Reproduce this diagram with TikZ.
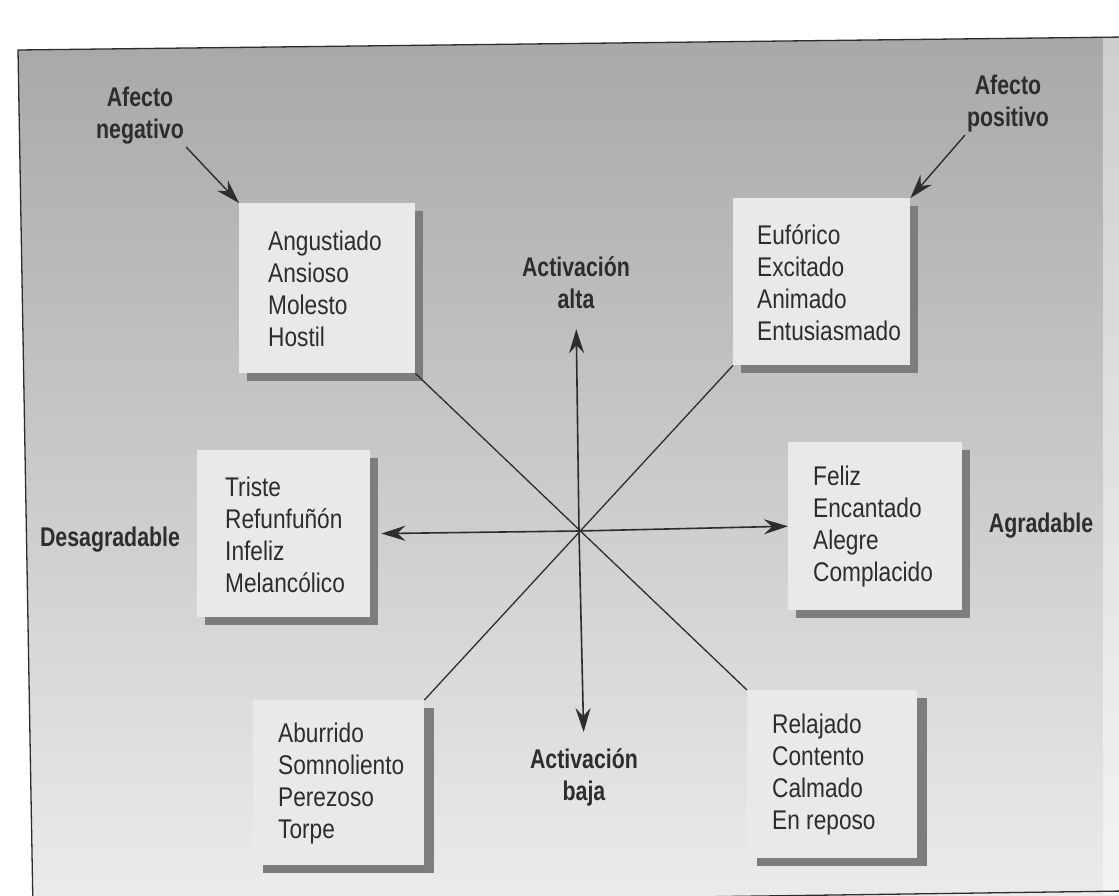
\documentclass[tikz,border=0pt]{standalone}
\usepackage{fontspec}
\usetikzlibrary{arrows.meta,shadows}
\newfontfamily\boxfont[FakeStretch=0.84]{Liberation Sans}
\newfontfamily\labfont[FakeStretch=0.79]{Liberation Sans}
\definecolor{boxfill}{RGB}{233,233,233}
\definecolor{shadowcol}{RGB}{125,125,125}
\definecolor{ink}{RGB}{45,45,45}
\definecolor{bgtop}{RGB}{168,168,168}
\definecolor{bgmid}{RGB}{194,194,194}
\definecolor{bgbot}{RGB}{236,236,236}
\tikzset{
  box/.style={fill=boxfill, inner sep=0pt, anchor=north west,
    drop shadow={shadow xshift=8pt, shadow yshift=-8pt, fill=shadowcol, opacity=1}},
  bigbox/.style={fill=boxfill, inner sep=0pt, anchor=north west,
    drop shadow={shadow xshift=10pt, shadow yshift=-8pt, fill=shadowcol, opacity=1}},
  words/.style={anchor=west, align=left, inner sep=0pt, text=ink,
    font=\boxfont\fontsize{27}{32}\selectfont},
  lab/.style={inner sep=0pt, align=center, text=ink,
    font=\labfont\bfseries\fontsize{27}{32}\selectfont},
  axis/.style={draw=ink, line width=1.6pt, -{Stealth[length=24pt,width=15pt,inset=8pt]}},
  diag/.style={draw=ink, line width=1.3pt},
  frameline/.style={draw=ink, line width=1.3pt}
}
\begin{document}
\begin{tikzpicture}[x=1pt,y=-1pt]
\fill[white] (0,0) rectangle (1119,895);
\useasboundingbox (0,0) rectangle (1119,895);
\begin{scope}
  \clip (0,0) rectangle (1119,895);
  \shade[top color=bgtop, middle color=bgmid, bottom color=bgbot]
    (18,50) -- (1125,37) -- (1125,910) -- (33,910) -- cycle;
  \fill[white, opacity=0.45] (1103,0) rectangle (1119,895);
  \draw[frameline] (33,910) -- (18,50) -- (1125,37);
  \draw[frameline] (33,906) -- (1125,891);
\end{scope}

% boxes
\node[box, minimum width=176pt, minimum height=170pt] (bneg) at (239,203) {};
\node[box, minimum width=177pt, minimum height=167pt] (bpos) at (733,198) {};
\node[box, minimum width=173pt, minimum height=167pt] (bdes) at (197,450) {};
\node[box, minimum width=174pt, minimum height=168pt] (bagr) at (788,442) {};
\node[bigbox, minimum width=171pt, minimum height=165pt] (babu) at (253,700) {};
\node[bigbox, minimum width=170pt, minimum height=168pt] (brel) at (747,690) {};

% box texts
\node[words] (tneg) at (268,289) {Angustiado\\Ansioso\\Molesto\\Hostil};
\node[words] (tpos) at (757,283) {Eufórico\\Excitado\\Animado\\Entusiasmado};
\node[words] (tdes) at (225,535) {Triste\\Refunfuñón\\Infeliz\\Melancólico};
\node[words] (tagr) at (813,527) {Feliz\\Encantado\\Alegre\\Complacido};
\node[words] (tabu) at (278,784) {Aburrido\\Somnoliento\\Perezoso\\Torpe};
\node[words] (trel) at (772,775) {Relajado\\Contento\\Calmado\\En reposo};

% labels
\node[lab] (lneg) at (140,116) {Afecto\\negativo};
\node[lab] (lpos) at (1008,104) {Afecto\\positivo};
\node[lab] (lalta) at (576,283) {Activación\\alta};
\node[lab] (lbaja) at (584,777) {Activación\\baja};
\node[lab, anchor=base] (ldes) at (110,546) {Desagradable};
\node[lab, anchor=base] (lagr) at (1041,532) {Agradable};

% axes
\coordinate (c) at (579,531);
\draw[diag] (bneg.south east) -- (brel.north west);
\draw[diag] (bpos.south west) -- (babu.north east);
\draw[axis, shorten >=20pt] (c) -- (lalta.south);
\draw[axis, shorten >=16pt] (c) -- (lbaja.north);
\draw[axis, shorten >=11pt] (c) -- (bdes.east);
\draw[axis] (c) -- (bagr.west);

% affect arrows
\draw[axis, line width=1.4pt, shorten <=3pt] (lneg.south east) -- (bneg.north west);
\draw[axis, line width=1.4pt, shorten <=3pt] (lpos.south west) -- (bpos.north east);
\end{tikzpicture}
\end{document}
